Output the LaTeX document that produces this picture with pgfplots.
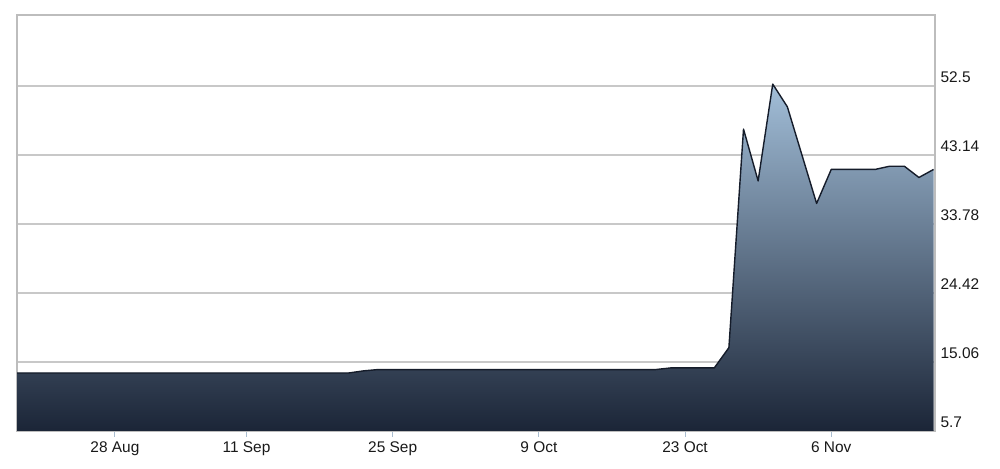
\documentclass[border=0pt]{standalone}
\usepackage{fontspec}
\setmainfont{Liberation Sans}
\usepackage{pgfplots}
\pgfplotsset{compat=1.18}
\usepackage{pgfplotstable}

\definecolor{areatop}{HTML}{A2BED8}
\definecolor{areabot}{HTML}{1B2537}
\definecolor{lineclr}{HTML}{151C2A}
\definecolor{gridgray}{HTML}{C8C8C8}
\definecolor{framegray}{HTML}{BDBDBD}
\definecolor{tickblue}{HTML}{A9BDD0}

% x = trading day, 0 = 28 Aug
\pgfplotstableread{
day price
-7 13.57
-6 13.57
-5 13.57
-4 13.57
-3 13.57
-2 13.57
-1 13.57
0 13.57
1 13.57
2 13.57
3 13.57
4 13.57
5 13.57
6 13.57
7 13.57
8 13.57
9 13.57
10 13.57
11 13.57
12 13.57
13 13.57
14 13.57
15 13.57
16 13.57
17 13.85
18 14.03
19 14.03
20 14.03
21 14.03
22 14.03
23 14.03
24 14.03
25 14.03
26 14.03
27 14.03
28 14.03
29 14.03
30 14.03
31 14.03
32 14.03
33 14.03
34 14.03
35 14.03
36 14.03
37 14.03
38 14.25
39 14.25
40 14.25
41 14.25
42 17.00
43 46.63
44 39.61
45 52.73
46 49.65
47 43.10
48 36.55
49 41.16
50 41.16
51 41.16
52 41.16
53 41.60
54 41.60
55 40.07
56 41.16
}\prices

\begin{document}
\begin{tikzpicture}
\useasboundingbox (0,0) rectangle (1000bp,469bp);
\begin{axis}[
    at={(17bp,38bp)}, anchor=south west,
    scale only axis, width=918bp, height=416bp,
    xmin=-6.7, xmax=56.1,
    ymin=5.7, ymax=62.1,
    xtick={0,9,19,29,39,49},
    xticklabels={28 Aug,11 Sep,25 Sep,9 Oct,23 Oct,6 Nov},
    ytick={5.7,15.06,24.42,33.78,43.14,52.5},
    yticklabels={5.7,15.06,24.42,33.78,43.14,52.5},
    xtick pos=bottom, ytick pos=right,
    tick align=outside,
    major tick length=6bp,
    xtick style={draw=tickblue, line width=1bp},
    ytick style={draw=none},
    ymajorgrids,
    grid style={draw=gridgray, line width=1.5bp},
    axis line style={draw=framegray, line width=1.5bp},
    tick label style={font=\fontsize{15.5}{18}\selectfont, text=black!90},
    yticklabel style={anchor=west, yshift=9bp, xshift=-4bp},
    xticklabel style={yshift=-1bp},
]
\addplot[draw=none, top color=areatop, bottom color=areabot]
    table[x=day, y=price] {\prices} \closedcycle;
\addplot[draw=lineclr, line width=1.4bp, line join=round, mark=none]
    table[x=day, y=price] {\prices};
\end{axis}
\end{tikzpicture}
\end{document}
